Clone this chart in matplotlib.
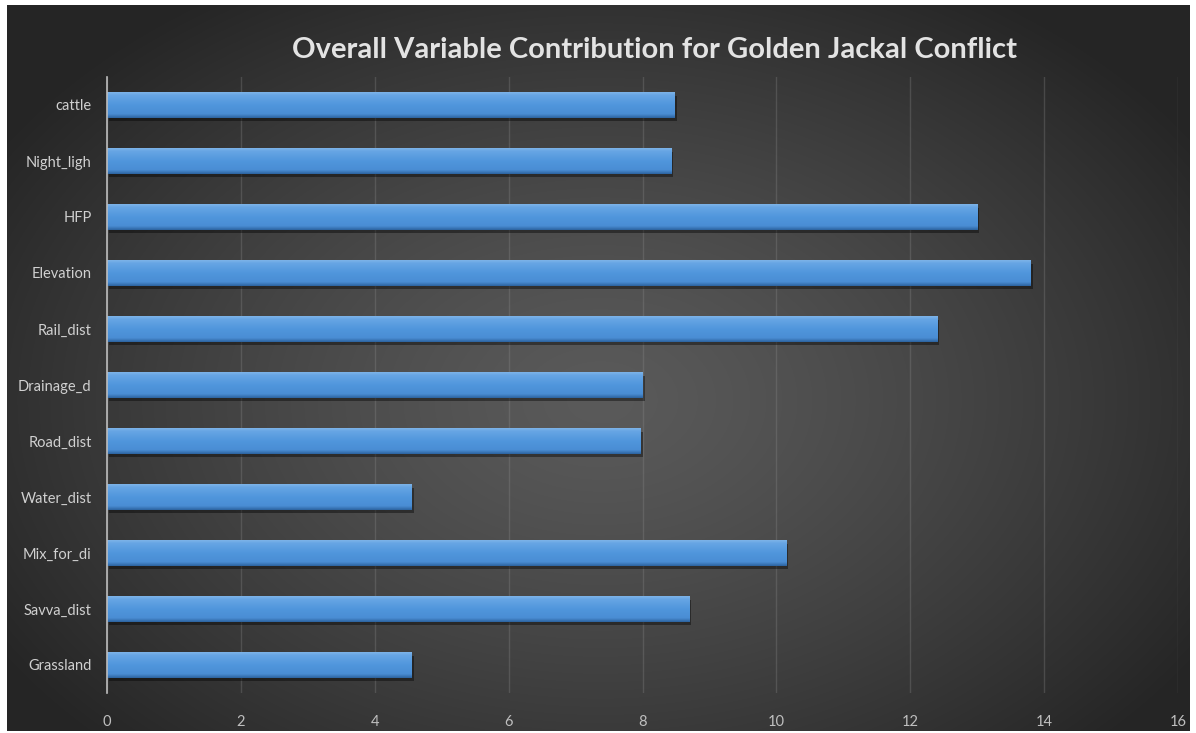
import numpy as np
import matplotlib
matplotlib.use("Agg")
import matplotlib.pyplot as plt
from matplotlib import patheffects as pe
from matplotlib.colors import LinearSegmentedColormap, to_rgb

plt.rcParams['font.family'] = ['Lato', 'DejaVu Sans']

categories = ["cattle", "Night_ligh", "HFP", "Elevation", "Rail_dist",
              "Drainage_d", "Road_dist", "Water_dist", "Mix_for_di",
              "Savva_dist", "Grassland"]
contribution = [8.48, 8.43, 13.0, 13.8, 12.4, 8.0, 7.97, 4.55, 10.15, 8.7, 4.55]
xticks = [0, 2, 4, 6, 8, 10, 12, 14, 16]
title = "Overall Variable Contribution for Golden Jackal Conflict"

W, H, DPI = 1196, 733, 100
fig = plt.figure(figsize=(W / DPI, H / DPI), dpi=DPI, facecolor="white")

# dark radial-gradient panel behind everything
bg_left, bg_right, bg_top, bg_bot = 7, 1190, 5, 731
bg = fig.add_axes([bg_left / W, 1 - bg_bot / H, (bg_right - bg_left) / W,
                   (bg_bot - bg_top) / H], zorder=0)
bg.axis("off")
gw, gh = bg_right - bg_left, bg_bot - bg_top
yy, xx = np.mgrid[0:gh, 0:gw]
cx, cy = 600 - bg_left, 400 - bg_top
d = np.sqrt(((xx - cx) / 700.0) ** 2 + ((yy - cy) / 480.0) ** 2)
d = np.clip(d, 0, 1) ** 1.3
c_in = np.array(to_rgb("#5a5a5a"))
c_out = np.array(to_rgb("#262626"))
img = c_in[None, None, :] * (1 - d[..., None]) + c_out[None, None, :] * d[..., None]
bg.imshow(img, aspect="auto", extent=[0, 1, 0, 1], origin="upper")
bg.set_xlim(0, 1)
bg.set_ylim(0, 1)

# main chart axes
ax_l, ax_r, ax_t, ax_b = 107, 1178, 77, 693
ax = fig.add_axes([ax_l / W, 1 - ax_b / H, (ax_r - ax_l) / W, (ax_b - ax_t) / H],
                  zorder=1)
ax.patch.set_alpha(0)

ypos = np.arange(len(categories))
bar_h = 0.46
bars = ax.barh(ypos, contribution, height=bar_h, color="#4f93da",
               linewidth=0, zorder=3)
for b in bars:
    b.set_path_effects([pe.SimplePatchShadow(offset=(1.5, -2.5),
                                             shadow_rgbFace="black", alpha=0.4),
                        pe.Normal()])

# vertical shading of each bar
bar_cmap = LinearSegmentedColormap.from_list(
    "barshade",
    [(0.0, "#7db3e8"), (0.12, "#66a5e4"), (0.5, "#5096dc"),
     (0.85, "#4a8dd4"), (1.0, "#2d64a0")])
grad = np.linspace(0, 1, 64)[:, None]
for b, y, v in zip(bars, ypos, contribution):
    im = ax.imshow(grad, cmap=bar_cmap, aspect="auto", origin="upper",
                   extent=[0, v, y + bar_h / 2, y - bar_h / 2], zorder=4,
                   interpolation="bilinear")
    im.set_clip_path(b)

ax.set_xlim(0, 16)
ax.set_ylim(len(categories) - 0.5, -0.5)
ax.set_xticks(xticks)
ax.set_xticklabels([str(t) for t in xticks])
ax.set_yticks(ypos)
ax.set_yticklabels(categories)

ax.grid(axis="x", color="#8c8c8c", linewidth=1.0, alpha=0.3, zorder=1)
ax.set_axisbelow(True)
for s in ["top", "right", "bottom"]:
    ax.spines[s].set_visible(False)
ax.spines["left"].set_color("#bdbdbd")
ax.spines["left"].set_linewidth(1.2)
ax.spines["left"].set_zorder(5)

ax.tick_params(axis="both", length=0, colors="#d0d0d0", labelsize=10.5)
ax.tick_params(axis="y", pad=11)
ax.tick_params(axis="x", pad=16, labelcolor="#bfbfbf")

fig.text(655 / W, 1 - 50 / H, title, ha="center", va="center",
         fontsize=21, fontweight="bold", color="#e3e3e3", zorder=2)

fig.savefig("out.png", dpi=DPI, facecolor="white")
